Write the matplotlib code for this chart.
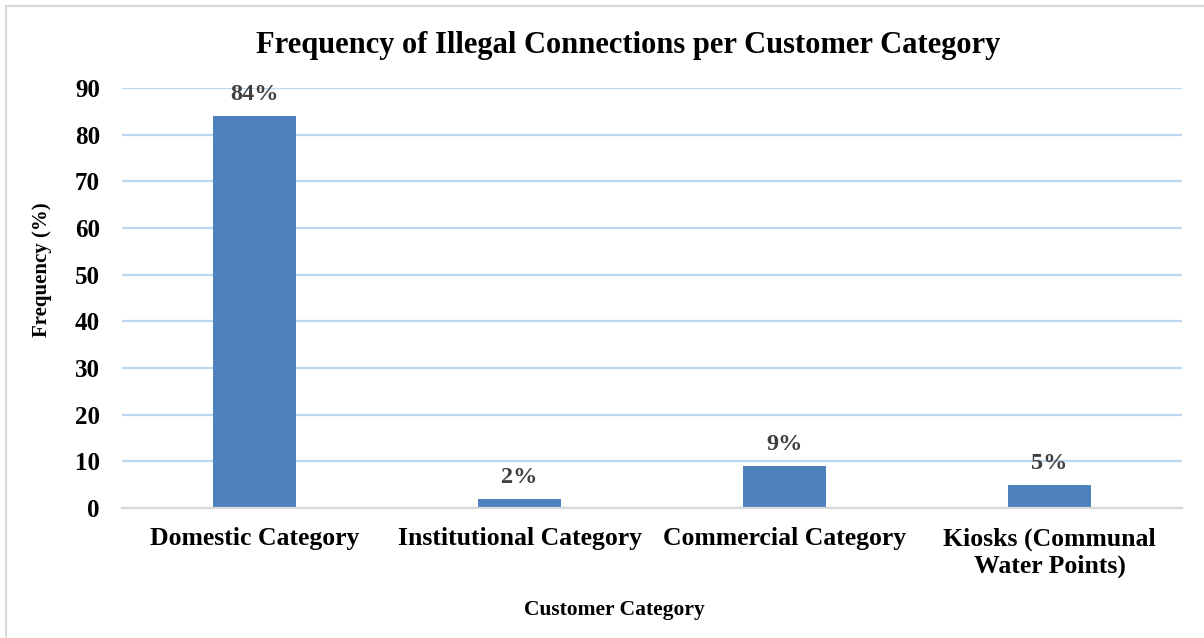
import matplotlib.pyplot as plt
from matplotlib.patches import Rectangle

# ── Data ──────────────────────────────────────────────────────────────────────
categories = ["Domestic Category", "Institutional Category",
              "Commercial Category", "Kiosks (Communal\nWater Points)"]
frequency = [84, 2, 9, 5]
value_labels = ["84%", "2%", "9%", "5%"]
y_ticks = [0, 10, 20, 30, 40, 50, 60, 70, 80, 90]

plt.rcParams.update({
    "font.family": ["Liberation Serif", "DejaVu Serif"],
    "font.weight": "bold",
})

W, H = 1204, 638
fig = plt.figure(figsize=(W / 100, H / 100), dpi=100)
ax = fig.add_axes([122 / W, 1 - 508 / H, 1060 / W, 420 / H])

x = list(range(len(categories)))
ax.bar(x, frequency, width=0.31, color="#4f81bd", zorder=3)
for xi, v, lbl in zip(x, frequency, value_labels):
    ax.annotate(lbl, (xi, v), xytext=(0, 8), textcoords="offset points",
                ha="center", va="bottom", fontsize=17.5, fontweight="bold",
                color="#404040", zorder=4)

ax.set_xlim(-0.5, len(categories) - 0.5)
ax.set_ylim(0, 90)
ax.set_yticks(y_ticks)
ax.set_xticks(x)
ax.set_xticklabels(categories, fontsize=18.5, fontweight="bold",
                   linespacing=1.2, va="top")
ax.tick_params(axis="y", labelsize=18, length=0, pad=16)
ax.tick_params(axis="x", length=0, pad=14)
ax.grid(axis="y", color="#bdd7ee", lw=1.6, zorder=0)
for s in ["top", "right", "left"]:
    ax.spines[s].set_visible(False)
ax.spines["bottom"].set_color("#d9d9d9")
ax.spines["bottom"].set_linewidth(1.6)
ax.spines["bottom"].set_zorder(3.5)

fig.text(628 / W, 1 - 46 / H, "Frequency of Illegal Connections per Customer Category",
         ha="center", va="center", fontsize=22, fontweight="bold")
fig.text(614 / W, 1 - 610 / H, "Customer Category",
         ha="center", va="center", fontsize=15.5, fontweight="bold")
fig.text(42 / W, 1 - 270 / H, "Frequency (%)", rotation=90,
         ha="center", va="center", fontsize=15, fontweight="bold")

fig.patches.append(Rectangle((6 / W, -0.05), 1.1, 1 - 6 / H + 0.05,
                             transform=fig.transFigure, fill=False,
                             edgecolor="#d9d9d9", lw=1.5))

fig.savefig("out.png", dpi=100)
